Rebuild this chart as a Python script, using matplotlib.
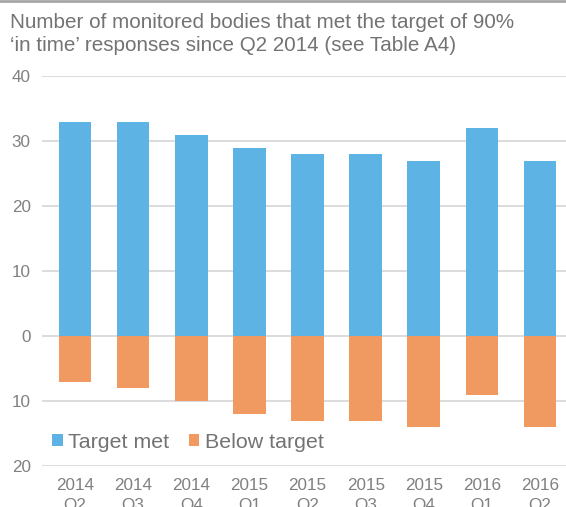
import matplotlib
matplotlib.use("Agg")
import matplotlib.pyplot as plt
from matplotlib.ticker import FuncFormatter
import numpy as np

categories = ["2014\nQ2", "2014\nQ3", "2014\nQ4", "2015\nQ1", "2015\nQ2",
              "2015\nQ3", "2015\nQ4", "2016\nQ1", "2016\nQ2"]
target_met = [33, 33, 31, 29, 28, 28, 27, 32, 27]
below_target = [7, 8, 10, 12, 13, 13, 14, 9, 14]

plt.rcParams['font.family'] = ['Liberation Sans', 'DejaVu Sans']
TXT = '#808080'
fig = plt.figure(figsize=(5.66, 5.07), dpi=100)
ax = fig.add_axes([42/566, 1-466/507, 1-42/566, (466-76)/507])

x = np.arange(len(categories))
w = 0.56
ax.bar(x, target_met, width=w, color='#5DB3E4', label='Target met', zorder=3)
ax.bar(x, [-v for v in below_target], width=w, color='#F09A62', label='Below target', zorder=3)

ax.set_ylim(-20, 40)
ax.set_xlim(-0.568, 8.447)
ax.set_yticks(range(-20, 41, 10))
ax.yaxis.set_major_formatter(FuncFormatter(lambda v, p: f"{abs(int(v))}"))
ax.set_xticks(x)
ax.set_xticklabels(categories)
ax.grid(axis='y', color='#D9D9D9', linewidth=1.3, zorder=0)
for s in ax.spines.values():
    s.set_visible(False)
ax.tick_params(axis='both', length=0, colors=TXT, labelsize=12.3)
ax.tick_params(axis='y', pad=8)
ax.tick_params(axis='x', pad=9)
for lab in ax.get_xticklabels():
    lab.set_linespacing(1.35)

fig.text(10/566, 1-13/507, "Number of monitored bodies that met the target of 90%\n\u2018in time\u2019 responses since Q2 2014 (see Table A4)",
         ha='left', va='top', fontsize=14.9, color='#737373', linespacing=1.25)

leg = ax.legend(loc='center left', bbox_to_anchor=(0.003, (442-466)/(76-466)), frameon=False,
                fontsize=15.4, labelcolor='#737373', handlelength=0.5, handleheight=0.5,
                handletextpad=0.25, columnspacing=0.9, ncol=2, borderaxespad=0)

fig.add_artist(plt.Line2D([0, 1], [1-1/507, 1-1/507], color='#A6A6A6', linewidth=2, transform=fig.transFigure))

fig.savefig("out.png", dpi=100)
